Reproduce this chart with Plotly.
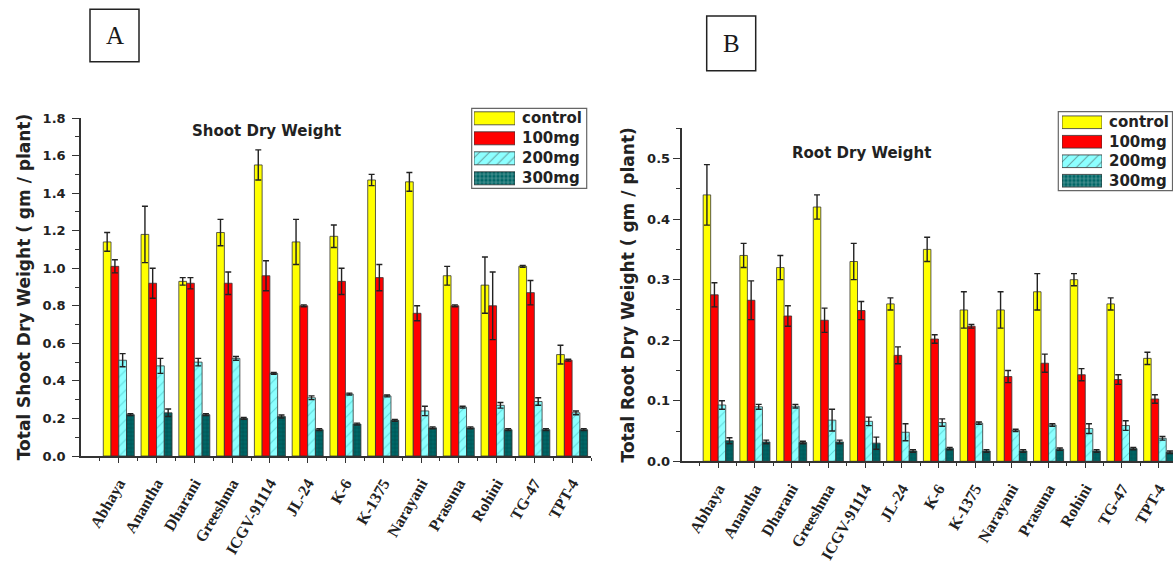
import plotly.graph_objects as go

W, H = 1173, 563

varieties = ["Abhaya", "Anantha", "Dharani", "Greeshma", "ICGV-91114", "JL-24", "K-6",
             "K-1375", "Narayani", "Prasuna", "Rohini", "TG-47", "TPT-4"]
treatments = ["control", "100mg", "200mg", "300mg"]

# Shoot dry weight (gm / plant) with error
shoot_control = [1.14, 1.18, 0.93, 1.19, 1.55, 1.14, 1.17, 1.47, 1.46, 0.96, 0.91, 1.01, 0.54]
shoot_control_err = [0.05, 0.15, 0.02, 0.07, 0.08, 0.12, 0.06, 0.03, 0.05, 0.05, 0.15, 0.005, 0.05]
shoot_100mg = [1.01, 0.92, 0.92, 0.92, 0.96, 0.80, 0.93, 0.95, 0.76, 0.80, 0.80, 0.87, 0.51]
shoot_100mg_err = [0.035, 0.08, 0.03, 0.06, 0.08, 0.005, 0.07, 0.07, 0.04, 0.005, 0.18, 0.065, 0.005]
shoot_200mg = [0.51, 0.48, 0.50, 0.52, 0.44, 0.31, 0.33, 0.32, 0.24, 0.26, 0.27, 0.29, 0.23]
shoot_200mg_err = [0.035, 0.04, 0.02, 0.01, 0.005, 0.01, 0.005, 0.005, 0.025, 0.005, 0.015, 0.02, 0.01]
shoot_300mg = [0.22, 0.23, 0.22, 0.20, 0.21, 0.14, 0.17, 0.19, 0.15, 0.15, 0.14, 0.14, 0.14]
shoot_300mg_err = [0.005, 0.02, 0.005, 0.005, 0.008, 0.005, 0.005, 0.005, 0.005, 0.005, 0.005, 0.005, 0.005]

# Root dry weight (gm / plant) with error
root_control = [0.44, 0.34, 0.32, 0.42, 0.33, 0.26, 0.35, 0.25, 0.25, 0.28, 0.30, 0.26, 0.17]
root_control_err = [0.05, 0.02, 0.02, 0.02, 0.03, 0.01, 0.02, 0.03, 0.03, 0.03, 0.01, 0.01, 0.01]
root_100mg = [0.275, 0.266, 0.24, 0.233, 0.249, 0.175, 0.202, 0.223, 0.14, 0.162, 0.143, 0.135, 0.103]
root_100mg_err = [0.02, 0.032, 0.017, 0.02, 0.015, 0.014, 0.007, 0.003, 0.01, 0.015, 0.01, 0.008, 0.007]
root_200mg = [0.093, 0.09, 0.091, 0.068, 0.066, 0.048, 0.064, 0.063, 0.051, 0.060, 0.054, 0.059, 0.038]
root_200mg_err = [0.007, 0.004, 0.003, 0.018, 0.007, 0.014, 0.006, 0.002, 0.002, 0.002, 0.008, 0.008, 0.003]
root_300mg = [0.034, 0.032, 0.031, 0.032, 0.030, 0.017, 0.021, 0.017, 0.017, 0.020, 0.017, 0.021, 0.015]
root_300mg_err = [0.005, 0.003, 0.002, 0.003, 0.01, 0.002, 0.002, 0.002, 0.002, 0.002, 0.002, 0.002, 0.002]

shoot = [(shoot_control, shoot_control_err), (shoot_100mg, shoot_100mg_err),
         (shoot_200mg, shoot_200mg_err), (shoot_300mg, shoot_300mg_err)]
root = [(root_control, root_control_err), (root_100mg, root_100mg_err),
        (root_200mg, root_200mg_err), (root_300mg, root_300mg_err)]

# legend swatch length (full width of the swatch axis)
swatch_len = [1, 1, 1, 1]


def fx(px):
    return px / W


def fy(px):
    return 1 - px / H


fill = ["#FFFF00", "#FF0000", "#8CFFFF", "#006666"]
pat_shape = ["", "", "/", "+"]
pat_fg = ["#FFFF00", "#FF0000", "#35B5B5", "#003838"]
pat_size = [6, 6, 7, 4]
pat_solid = [0.2, 0.2, 0.15, 0.25]
EDGE = "#333333"
AXC = "#333333"
BOLD_SANS = "DejaVu Sans"

fig = go.Figure()
x = list(range(len(varieties)))

for data, xa, ya in [(shoot, "x", "y"), (root, "x2", "y2")]:
    for i, (vals, errs) in enumerate(data):
        fig.add_trace(go.Bar(
            x=x, y=vals, xaxis=xa, yaxis=ya, name=treatments[i], showlegend=False,
            marker=dict(color=fill[i], line=dict(color=EDGE, width=0.8),
                        pattern=dict(shape=pat_shape[i], fgcolor=pat_fg[i], bgcolor=fill[i],
                                     size=pat_size[i], solidity=pat_solid[i])),
            error_y=dict(type="data", array=errs, visible=True, color="#222222",
                         thickness=1.4, width=3),
        ))

# legend swatches, one bar per treatment
for xa, ya in [("x3", "y3"), ("x4", "y4")]:
    fig.add_trace(go.Bar(
        x=swatch_len, y=[0, 1, 2, 3], orientation="h", xaxis=xa, yaxis=ya, width=0.65,
        showlegend=False, hoverinfo="skip",
        marker=dict(color=fill, line=dict(color=EDGE, width=0.8),
                    pattern=dict(shape=pat_shape, fgcolor=pat_fg, bgcolor=fill,
                                 size=pat_size, solidity=pat_solid)),
    ))

xcommon = dict(
    tickmode="array", tickvals=x, ticktext=varieties, tickangle=-60,
    ticks="outside", ticklen=5, tickwidth=1.2, tickcolor=AXC,
    showline=True, linecolor=AXC, linewidth=1.5,
    minor=dict(ticks="outside", tick0=-0.5, dtick=1, ticklen=3, tickcolor=AXC, tickwidth=1),
    tickfont=dict(family="Liberation Serif", size=16, color="#222222", weight="bold"),
    ticklabelstandoff=5, showgrid=False, zeroline=False, automargin=False, fixedrange=True,
)
ycommon = dict(
    ticks="outside", ticklen=7, tickwidth=1.2, tickcolor=AXC, tickformat=".1f",
    showline=True, linecolor=AXC, linewidth=1.5, showgrid=False, zeroline=False,
    tickfont=dict(family=BOLD_SANS, size=13, color="#222222", weight="bold"),
    automargin=False, fixedrange=True,
)

fig.update_layout(
    width=W, height=H, margin=dict(l=0, r=0, t=0, b=0),
    paper_bgcolor="white", plot_bgcolor="white",
    barmode="group", bargap=0.18, bargroupgap=0,
    xaxis=dict(domain=[fx(81), fx(591)], range=[-1, 12.5], anchor="y", **xcommon),
    yaxis=dict(domain=[fy(456), fy(118)], range=[0, 1.8], dtick=0.2, anchor="x",
               minor=dict(ticks="outside", dtick=0.1, ticklen=4, tickcolor=AXC),
               ticklabelstandoff=4,
               title=dict(text="Total Shoot Dry Weight ( gm / plant)", standoff=8,
                          font=dict(family=BOLD_SANS, size=17, color="#222222", weight="bold")),
               **ycommon),
    xaxis2=dict(domain=[fx(681.5), 1.0], range=[-1, 12.39], anchor="y2", **xcommon),
    yaxis2=dict(domain=[fy(461.3), fy(128.3)], range=[0, 0.55], dtick=0.1, anchor="x2",
                minor=dict(ticks="outside", dtick=0.05, ticklen=4, tickcolor=AXC),
                ticklabelstandoff=0,
                title=dict(text="Total Root Dry Weight ( gm / plant)", standoff=8,
                           font=dict(family=BOLD_SANS, size=17, color="#222222", weight="bold")),
                **ycommon),
    xaxis3=dict(domain=[fx(474), fx(515)], range=[0, 1], visible=False, anchor="y3", fixedrange=True),
    yaxis3=dict(domain=[fy(188.3), fy(108.3)], range=[3.5, -0.5], visible=False, anchor="x3", fixedrange=True),
    xaxis4=dict(domain=[fx(1062), fx(1102)], range=[0, 1], visible=False, anchor="y4", fixedrange=True),
    yaxis4=dict(domain=[fy(190.5), fy(112.5)], range=[3.5, -0.5], visible=False, anchor="x4", fixedrange=True),
)

shapes = []
annotations = []

# legend frames and labels
for (x0, y0, x1, y1), tx, top, step in [((471.7, 108.3, 586.7, 188.3), 520, 118.3, 20.0),
                                          ((1058.3, 111.7, 1172.5, 190.7), 1107, 122.25, 19.5)]:
    shapes.append(dict(type="rect", xref="paper", yref="paper", x0=fx(x0), x1=fx(x1),
                       y0=fy(y1), y1=fy(y0), line=dict(color="#666666", width=1.2)))
    for k, name in enumerate(treatments):
        annotations.append(dict(xref="paper", yref="paper", x=fx(tx), y=fy(top + k * step),
                                xanchor="left", yanchor="middle", showarrow=False, text=name,
                                font=dict(family=BOLD_SANS, size=15, color="#222222", weight="bold")))

# panel letters in boxes
for (x0, y0, x1, y1), letter in [((90, 9.3, 139, 61.7), "A"), ((706.7, 16, 755.7, 70.7), "B")]:
    shapes.append(dict(type="rect", xref="paper", yref="paper", x0=fx(x0), x1=fx(x1),
                       y0=fy(y1), y1=fy(y0), line=dict(color="#222222", width=1.5)))
    annotations.append(dict(xref="paper", yref="paper", x=fx((x0 + x1) / 2), y=fy((y0 + y1) / 2),
                            xanchor="center", yanchor="middle", showarrow=False, text=letter,
                            font=dict(family="Liberation Serif", size=25, color="#1a1a1a")))

# chart titles inside the plot areas
for cx, cy, txt in [(266.5, 131, "Shoot Dry Weight"), (861.7, 152.7, "Root Dry Weight")]:
    annotations.append(dict(xref="paper", yref="paper", x=fx(cx), y=fy(cy), xanchor="center",
                            yanchor="middle", showarrow=False, text=txt,
                            font=dict(family=BOLD_SANS, size=15, color="#222222", weight="bold")))

fig.update_layout(shapes=shapes, annotations=annotations)
fig.write_html("out.html")
